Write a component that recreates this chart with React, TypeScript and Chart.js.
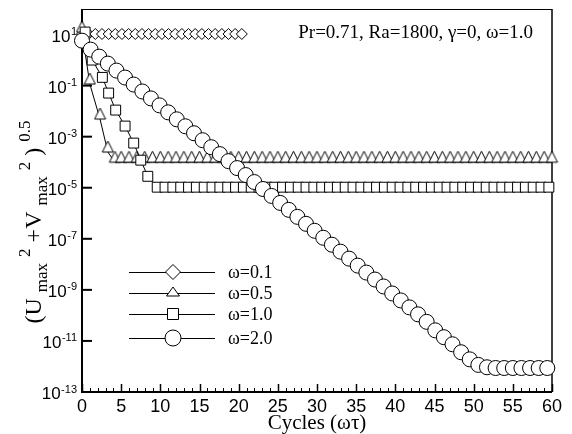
import React, { useEffect, useRef } from 'react';
import { Chart, registerables } from 'chart.js';
Chart.register(...registerables);

// ---- data ----
const xTickLabels = [0, 5, 10, 15, 20, 25, 30, 35, 40, 45, 50, 55, 60];
const yTickExponents = [1, -1, -3, -5, -7, -9, -11, -13];
const legendLabels = ['ω=0.1', 'ω=0.5', 'ω=1.0', 'ω=2.0'];
const annotationText = 'Pr=0.71, Ra=1800, γ=0, ω=1.0';

const w01X = [0, 0.85, 1.7, 2.55, 3.4, 4.25, 5.1, 5.95, 6.8, 7.65, 8.5, 9.35, 10.2, 11.05, 11.9, 12.75, 13.6, 14.45, 15.3, 16.15, 17, 17.85, 18.7, 19.55, 20.4];
const w01Y = [10.5, 10.5, 10.5, 10.5, 10.5, 10.5, 10.5, 10.5, 10.5, 10.5, 10.5, 10.5, 10.5, 10.5, 10.5, 10.5, 10.5, 10.5, 10.5, 10.5, 10.5, 10.5, 10.5, 10.5, 10.5];

const w05X = [0, 1.0, 2.3, 3.3, 4.2, 5, 6, 7, 8, 9, 10, 11, 12, 13, 14, 15, 16, 17, 18, 19, 20, 21, 22, 23, 24, 25, 26, 27, 28, 29, 30, 31, 32, 33, 34, 35, 36, 37, 38, 39, 40, 41, 42, 43, 44, 45, 46, 47, 48, 49, 50, 51, 52, 53, 54, 55, 56, 57, 58, 59, 60];
const w05Y = [12.5, 0.115, 0.0049, 2.5e-4, 1e-4, 1e-4, 1e-4, 1e-4, 1e-4, 1e-4, 1e-4, 1e-4, 1e-4, 1e-4, 1e-4, 1e-4, 1e-4, 1e-4, 1e-4, 1e-4, 1e-4, 1e-4, 1e-4, 1e-4, 1e-4, 1e-4, 1e-4, 1e-4, 1e-4, 1e-4, 1e-4, 1e-4, 1e-4, 1e-4, 1e-4, 1e-4, 1e-4, 1e-4, 1e-4, 1e-4, 1e-4, 1e-4, 1e-4, 1e-4, 1e-4, 1e-4, 1e-4, 1e-4, 1e-4, 1e-4, 1e-4, 1e-4, 1e-4, 1e-4, 1e-4, 1e-4, 1e-4, 1e-4, 1e-4, 1e-4, 1e-4];

const w10X = [0.4, 1.3, 2.6, 3.4, 4.3, 5.5, 6.6, 7.5, 8.4, 9.6, 10.6, 11.6, 12.6, 13.6, 14.6, 15.6, 16.6, 17.6, 18.6, 19.6, 20.6, 21.6, 22.6, 23.6, 24.6, 25.6, 26.6, 27.6, 28.6, 29.6, 30.6, 31.6, 32.6, 33.6, 34.6, 35.6, 36.6, 37.6, 38.6, 39.6, 40.6, 41.6, 42.6, 43.6, 44.6, 45.6, 46.6, 47.6, 48.6, 49.6, 50.6, 51.6, 52.6, 53.6, 54.6, 55.6, 56.6, 57.6, 58.6, 59.6];
const w10Y = [12.5, 1.0, 0.21, 0.051, 0.011, 2.6e-3, 5.6e-4, 1.2e-4, 2.8e-5, 1.05e-5, 1.05e-5, 1.05e-5, 1.05e-5, 1.05e-5, 1.05e-5, 1.05e-5, 1.05e-5, 1.05e-5, 1.05e-5, 1.05e-5, 1.05e-5, 1.05e-5, 1.05e-5, 1.05e-5, 1.05e-5, 1.05e-5, 1.05e-5, 1.05e-5, 1.05e-5, 1.05e-5, 1.05e-5, 1.05e-5, 1.05e-5, 1.05e-5, 1.05e-5, 1.05e-5, 1.05e-5, 1.05e-5, 1.05e-5, 1.05e-5, 1.05e-5, 1.05e-5, 1.05e-5, 1.05e-5, 1.05e-5, 1.05e-5, 1.05e-5, 1.05e-5, 1.05e-5, 1.05e-5, 1.05e-5, 1.05e-5, 1.05e-5, 1.05e-5, 1.05e-5, 1.05e-5, 1.05e-5, 1.05e-5, 1.05e-5, 1.05e-5];

const w20X = [0, 1.1, 2.2, 3.3, 4.4, 5.5, 6.6, 7.7, 8.8, 9.9, 11, 12.1, 13.2, 14.3, 15.4, 16.5, 17.6, 18.7, 19.8, 20.9, 22, 23.1, 24.2, 25.3, 26.4, 27.5, 28.6, 29.7, 30.8, 31.9, 33, 34.1, 35.2, 36.3, 37.4, 38.5, 39.6, 40.7, 41.8, 42.9, 44, 45.1, 46.2, 47.3, 48.4, 49.5, 50.6, 51.7, 52.8, 53.9, 55, 56.1, 57.2, 58.3, 59.4];
const w20Y = [5.75, 2.57, 1.36, 0.728, 0.388, 0.207, 0.110, 0.0589, 0.0315, 0.0168, 8.95e-3, 4.78e-3, 2.55e-3, 1.36e-3, 7.26e-4, 3.87e-4, 2.07e-4, 1.10e-4, 5.89e-5, 3.14e-5, 1.67e-5, 8.93e-6, 4.77e-6, 2.55e-6, 1.36e-6, 7.24e-7, 3.86e-7, 2.06e-7, 1.10e-7, 5.87e-8, 3.13e-8, 1.67e-8, 8.91e-9, 4.76e-9, 2.54e-9, 1.36e-9, 7.23e-10, 3.86e-10, 2.06e-10, 1.10e-10, 5.6e-11, 2.6e-11, 1.4e-11, 7.4e-12, 3.6e-12, 1.9e-12, 1.15e-12, 9.3e-13, 8.7e-13, 8.7e-13, 8.7e-13, 8.7e-13, 8.7e-13, 8.7e-13, 8.7e-13];

const SERIF = '"Liberation Serif", "Times New Roman", serif';
const SANS = '"Liberation Sans", Arial, sans-serif';

function zip(xs: number[], ys: number[]) {
  return xs.map((x, i) => ({ x, y: ys[i] }));
}

function makeTriangle(w: number, h: number): HTMLCanvasElement {
  const c = document.createElement('canvas');
  c.width = Math.ceil(w + 2);
  c.height = Math.ceil(2 * h + 2);
  const ctx = c.getContext('2d')!;
  const cx = c.width / 2;
  const base = c.height / 2;
  ctx.beginPath();
  ctx.moveTo(cx, base - h);
  ctx.lineTo(cx + w / 2, base);
  ctx.lineTo(cx - w / 2, base);
  ctx.closePath();
  ctx.fillStyle = '#fff';
  ctx.fill();
  ctx.strokeStyle = '#000';
  ctx.lineWidth = 1;
  ctx.stroke();
  return c;
}

const framePlugin = {
  id: 'frame',
  beforeDatasetsDraw(chart: any) {
    const { ctx, chartArea: a, scales } = chart;
    const xs = scales.x, ys = scales.y;
    ctx.save();
    ctx.strokeStyle = '#000';
    ctx.lineWidth = 1;
    ctx.beginPath();
    ctx.moveTo(a.left, a.top + 0.5);
    ctx.lineTo(a.right, a.top + 0.5);
    ctx.stroke();
    ctx.lineWidth = 1.5;
    ctx.beginPath();
    ctx.moveTo(a.right, a.top);
    ctx.lineTo(a.right, a.bottom);
    ctx.stroke();
    ctx.lineWidth = 2;
    ctx.beginPath();
    ctx.moveTo(a.left, a.top);
    ctx.lineTo(a.left, a.bottom);
    ctx.lineTo(a.right, a.bottom);
    ctx.stroke();
    for (const e of yTickExponents) {
      const y = ys.getPixelForValue(Math.pow(10, e));
      ctx.beginPath();
      ctx.moveTo(a.left, y);
      ctx.lineTo(a.left + 10, y);
      ctx.stroke();
    }
    for (let v = 0; v <= 60; v += 1) {
      const x = xs.getPixelForValue(v);
      const major = v % 5 === 0;
      ctx.lineWidth = major ? 1.5 : 1;
      ctx.beginPath();
      ctx.moveTo(Math.round(x) + 0.5, a.bottom);
      ctx.lineTo(Math.round(x) + 0.5, a.bottom - (major ? 8 : 4));
      ctx.stroke();
    }
    ctx.restore();
  },
  afterDraw(chart: any) {
    const { ctx, chartArea: a, scales } = chart;
    const xs = scales.x, ys = scales.y;
    ctx.save();
    ctx.fillStyle = '#000';
    ctx.font = `18px ${SANS}`;
    ctx.textAlign = 'center';
    ctx.textBaseline = 'alphabetic';
    for (const v of xTickLabels) {
      ctx.fillText(String(v), xs.getPixelForValue(v), 412);
    }
    for (const e of yTickExponents) {
      const y = ys.getPixelForValue(Math.pow(10, e));
      const sup = String(e);
      ctx.font = `11px ${SANS}`;
      ctx.textAlign = 'right';
      const supW = ctx.measureText(sup).width;
      ctx.fillText(sup, 77, y + 0.5);
      ctx.font = `17px ${SANS}`;
      ctx.fillText('10', 77 - supW - 0.5, y + 7);
    }
    // x title
    ctx.font = `21px ${SERIF}`;
    ctx.textAlign = 'center';
    ctx.fillText('Cycles (ωτ)', (a.left + a.right) / 2, 429);
    // y title (rich text)
    const segs: [string, number, number][] = [
      ['(U', 24, 0],
      ['max', 17, 6],
      ['2', 17, -11],
      ['+V', 24, 0],
      ['max', 17, 6],
      ['2', 17, -11],
      [')', 24, 0],
      ['0.5', 17, -11],
    ];
    const gap = 6;
    let total = 0;
    for (const [t, s] of segs) {
      ctx.font = `${s}px ${SERIF}`;
      total += ctx.measureText(t).width + gap;
    }
    total -= gap;
    ctx.save();
    ctx.translate(41, 222);
    ctx.rotate(-Math.PI / 2);
    ctx.textAlign = 'left';
    let px = -total / 2;
    for (const [t, s, off] of segs) {
      ctx.font = `${s}px ${SERIF}`;
      ctx.fillText(t, px, off);
      px += ctx.measureText(t).width + gap;
    }
    ctx.restore();
    // annotation
    ctx.font = `19px ${SERIF}`;
    ctx.textAlign = 'right';
    ctx.fillText(annotationText, 533, 38);
    // legend
    const rows = [272, 293, 314, 338];
    ctx.textAlign = 'left';
    rows.forEach((ry, i) => {
      ctx.strokeStyle = '#000';
      ctx.lineWidth = 1;
      ctx.beginPath();
      ctx.moveTo(129, ry + 0.5);
      ctx.lineTo(215, ry + 0.5);
      ctx.stroke();
      const cx = 173;
      ctx.beginPath();
      if (i === 0) {
        ctx.moveTo(cx, ry - 7.5);
        ctx.lineTo(cx + 7.5, ry);
        ctx.lineTo(cx, ry + 7.5);
        ctx.lineTo(cx - 7.5, ry);
        ctx.closePath();
      } else if (i === 1) {
        ctx.moveTo(cx, ry - 6);
        ctx.lineTo(cx + 6.5, ry + 3);
        ctx.lineTo(cx - 6.5, ry + 3);
        ctx.closePath();
      } else if (i === 2) {
        ctx.rect(cx - 5.5, ry - 5.5, 11, 11);
      } else {
        ctx.arc(cx, ry, 8, 0, Math.PI * 2);
      }
      ctx.fillStyle = '#fff';
      ctx.fill();
      ctx.stroke();
      ctx.fillStyle = '#000';
      ctx.font = `18px ${SERIF}`;
      ctx.fillText(legendLabels[i], 228, ry + 6);
    });
    ctx.restore();
  },
};

export default function App() {
  const ref = useRef<HTMLCanvasElement | null>(null);
  useEffect(() => {
    if (!ref.current) return;
    const tri = makeTriangle(11, 11);
    const common = {
      borderColor: '#000',
      borderWidth: 1,
      pointBackgroundColor: '#fff',
      pointBorderColor: '#000',
      pointBorderWidth: 1,
      fill: false,
      tension: 0,
      clip: false as any,
    };
    const chart = new Chart(ref.current, {
      type: 'line',
      data: {
        datasets: [
          { ...common, label: legendLabels[3], data: zip(w20X, w20Y), pointStyle: 'circle', pointRadius: 7.5, order: 0 },
          { ...common, label: legendLabels[2], data: zip(w10X, w10Y), pointStyle: 'rect', pointRadius: 7, order: 1 },
          { ...common, label: legendLabels[1], data: zip(w05X, w05Y), pointStyle: tri as any, pointRadius: 6, order: 2 },
          { ...common, label: legendLabels[0], data: zip(w01X, w01Y), pointStyle: 'rectRot', pointRadius: 5.5, order: 3 },
        ] as any,
      },
      options: {
        responsive: false,
        animation: false,
        devicePixelRatio: 1,
        layout: { padding: { left: 82, right: 20, top: 9, bottom: 42 } },
        scales: {
          x: { type: 'linear', min: 0, max: 60, display: false },
          y: { type: 'logarithmic', min: 1e-13, max: 1e2, display: false },
        },
        plugins: { legend: { display: false }, tooltip: { enabled: false } },
        events: [],
      } as any,
      plugins: [framePlugin],
    });
    return () => chart.destroy();
  }, []);
  return (
    <div style={{ position: 'fixed', left: 0, top: 0, width: 572, height: 434, background: '#fff' }}>
      <canvas ref={ref} width={572} height={434} style={{ width: 572, height: 434, display: 'block' }} />
    </div>
  );
}
